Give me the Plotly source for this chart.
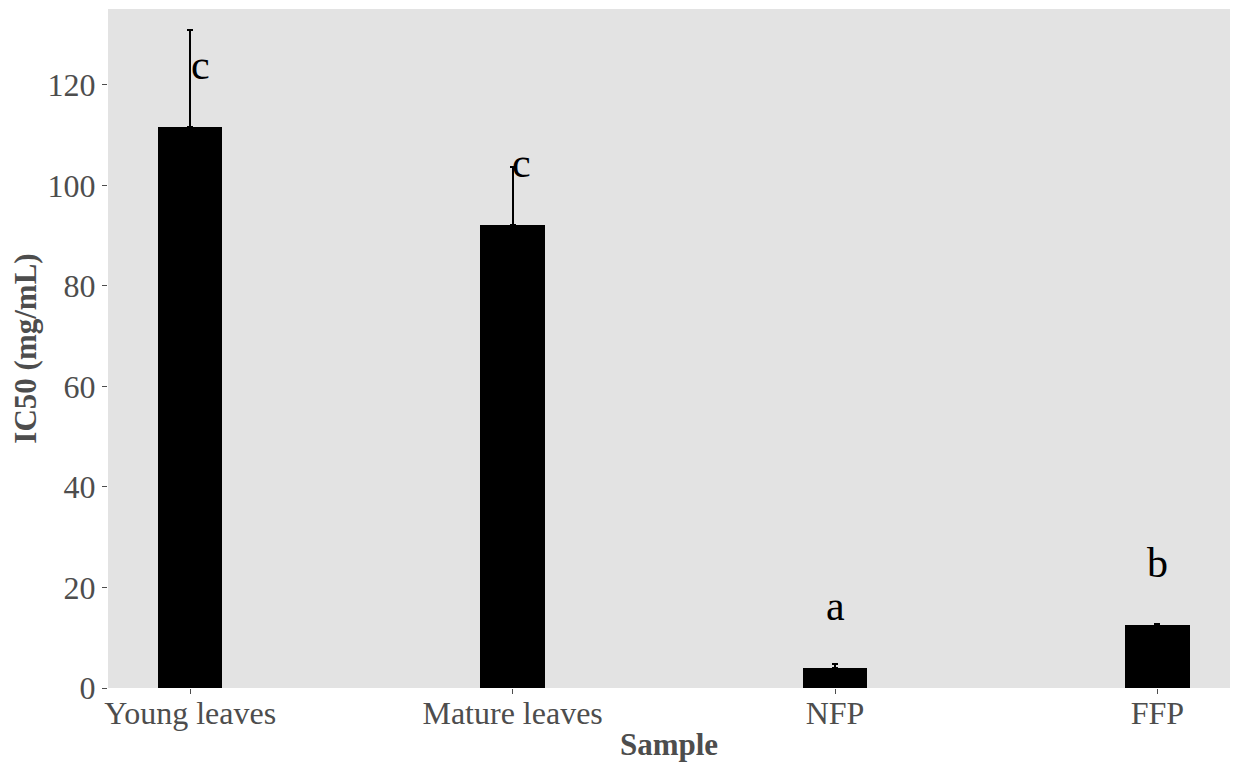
import plotly.graph_objects as go

samples = ["Young leaves", "Mature leaves", "NFP", "FFP"]
ic50 = [111.6, 92.1, 4.0, 12.5]
sd = [19.3, 11.6, 0.8, 0.2]
letters = ["c", "c", "a", "b"]
letter_y = [124.0, 104.5, 16.3, 24.9]
letter_shift = [10, 9, 0, 0]

fig = go.Figure()
fig.add_trace(go.Bar(
    x=samples, y=ic50, width=0.2,
    marker=dict(color="black", line=dict(width=0)),
    error_y=dict(type="data", array=sd, arrayminus=[0]*len(sd), symmetric=False,
                 color="black", thickness=2, width=3),
    showlegend=False,
))

for s, t, yv, xs in zip(samples, letters, letter_y, letter_shift):
    fig.add_annotation(x=s, y=yv, text=t, showarrow=False, xshift=xs,
                       font=dict(family="Liberation Serif", size=42, color="black"),
                       yanchor="middle")

fig.update_layout(
    width=1238, height=763,
    margin=dict(l=100, r=16, t=1, b=83, autoexpand=False),
    plot_bgcolor="#E3E3E3", paper_bgcolor="white",
    font=dict(family="Liberation Serif", color="#4D4D4D"),
    bargap=0,
)
fig.update_xaxes(
    range=[-0.255, 3.225], showgrid=False, zeroline=False, showline=False, automargin=False,
    ticks="outside", ticklen=5, tickcolor="#4D4D4D", tickwidth=1,
    ticklabelstandoff=-8,
    tickfont=dict(family="Liberation Serif", size=32, color="#4D4D4D"),
    title=dict(text="<b>Sample</b>", font=dict(family="Liberation Serif", size=31, color="#4D4D4D"), standoff=2),
)
fig.update_yaxes(
    range=[0, 135.1], showgrid=False, zeroline=False, showline=False, automargin=False,
    tickvals=[0, 20, 40, 60, 80, 100, 120],
    ticks="outside", ticklen=5, tickcolor="#4D4D4D", tickwidth=1,
    tickfont=dict(family="Liberation Serif", size=32, color="#4D4D4D"),
    title=dict(text="<b>IC50 (mg/mL)</b>", font=dict(family="Liberation Serif", size=31, color="#4D4D4D"), standoff=2),
)

fig.write_html("out.html")
